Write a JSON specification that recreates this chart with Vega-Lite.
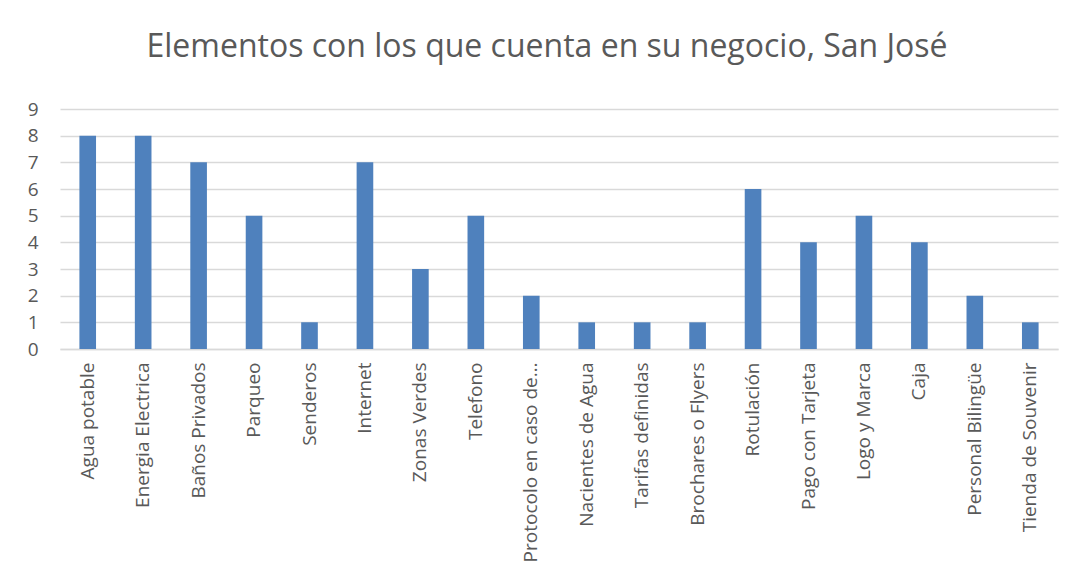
{
  "$schema": "https://vega.github.io/schema/vega-lite/v6.json",
  "autosize": {"type": "none"},
  "width": 998,
  "height": 240,
  "padding": {"left": 60, "top": 109, "right": 15, "bottom": 231},
  "background": "white",
  "title": {
    "text": "Elementos con los que cuenta en su negocio, San José",
    "font": "Open Sans",
    "fontSize": 32,
    "fontWeight": "normal",
    "color": "#595959",
    "anchor": "middle",
    "offset": 36,
    "dx": -12
  },
  "data": {
    "values": [
      {"elemento": "Agua potable", "n": 8},
      {"elemento": "Energia Electrica", "n": 8},
      {"elemento": "Baños Privados", "n": 7},
      {"elemento": "Parqueo", "n": 5},
      {"elemento": "Senderos", "n": 1},
      {"elemento": "Internet", "n": 7},
      {"elemento": "Zonas Verdes", "n": 3},
      {"elemento": "Telefono", "n": 5},
      {"elemento": "Protocolo en caso de…", "n": 2},
      {"elemento": "Nacientes de Agua", "n": 1},
      {"elemento": "Tarifas definidas", "n": 1},
      {"elemento": "Brochares o Flyers", "n": 1},
      {"elemento": "Rotulación", "n": 6},
      {"elemento": "Pago con Tarjeta", "n": 4},
      {"elemento": "Logo y Marca", "n": 5},
      {"elemento": "Caja", "n": 4},
      {"elemento": "Personal Bilingüe", "n": 2},
      {"elemento": "Tienda de Souvenir", "n": 1}
    ]
  },
  "mark": {"type": "bar", "color": "#4f81bd"},
  "encoding": {
    "x": {
      "field": "elemento",
      "type": "nominal",
      "sort": null,
      "scale": {"paddingInner": 0.7, "paddingOuter": 0.35},
      "axis": {
        "title": null,
        "labelAngle": -90,
        "labelFont": "Open Sans",
        "labelFontSize": 19,
        "labelColor": "#595959",
        "labelPadding": 13,
        "labelLimit": 300,
        "labelOverlap": false,
        "ticks": false,
        "domainColor": "#d9d9d9",
        "domainWidth": 1.5
      }
    },
    "y": {
      "field": "n",
      "type": "quantitative",
      "scale": {"domain": [0, 9], "nice": false},
      "axis": {
        "title": null,
        "values": [0, 1, 2, 3, 4, 5, 6, 7, 8, 9],
        "labelOverlap": false,
        "labelFont": "Open Sans",
        "labelFontSize": 19,
        "labelColor": "#595959",
        "labelPadding": 22,
        "ticks": false,
        "domain": false,
        "gridColor": "#d9d9d9",
        "gridWidth": 1.5
      }
    }
  },
  "config": {"view": {"stroke": null}}
}
